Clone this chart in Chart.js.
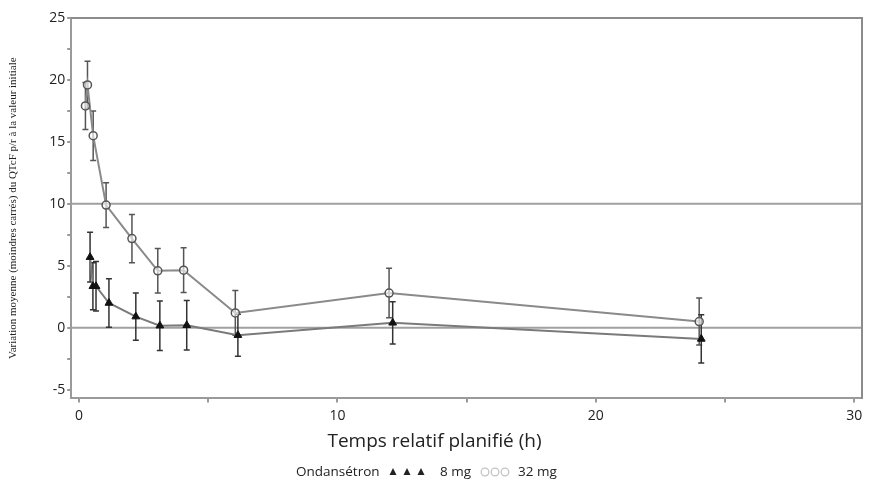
<!DOCTYPE html>
<html>
<head>
<meta charset="utf-8">
<script src="https://cdn.jsdelivr.net/npm/chart.js@4/dist/chart.umd.min.js"></script>
<style>
  html, body { margin: 0; padding: 0; background: #fff; }
  #wrap { width: 872px; height: 487px; position: relative; }
</style>
</head>
<body>
<div id="wrap"><canvas id="qtChart"></canvas></div>
<script>
// values (hours, ms)
const times32 = [0.25, 0.33, 0.55, 1.05, 2.05, 3.05, 4.05, 6.05, 12, 24];
const mean32 = [17.9, 19.6, 15.5, 9.9, 7.2, 4.6, 4.65, 1.2, 2.8, 0.5];
const err32 = [1.9, 1.9, 2.0, 1.8, 1.95, 1.8, 1.8, 1.8, 2.0, 1.9];

const times8 = [0.43, 0.54, 0.66, 1.16, 2.2, 3.13, 4.17, 6.15, 12.14, 24.08];
const mean8 = [5.7, 3.35, 3.35, 2.0, 0.9, 0.17, 0.2, -0.6, 0.4, -0.9];
const err8 = [2.0, 1.9, 2.0, 1.95, 1.9, 2.0, 2.0, 1.7, 1.7, 1.95];

const xTicks = [0, 5, 10, 15, 20, 25, 30];
const yTicks = [-5, -2.5, 0, 2.5, 5, 7.5, 10, 12.5, 15, 17.5, 20, 22.5, 25];
const refLines = [0, 10];

const FONT = "'Open Sans', Lato, sans-serif";

function toPoints(xs, ys, es) {
  return xs.map((x, i) => ({ x: x, y: ys[i], err: es[i] }));
}

// error bars, reference lines, frame and legend
const extras = {
  id: "extras",
  beforeDatasetsDraw(chart) {
    const ctx = chart.ctx;
    const a = chart.chartArea;
    const xs = chart.scales.x, ys = chart.scales.y;
    ctx.save();
    // horizontal reference lines
    ctx.strokeStyle = "#a0a0a0";
    ctx.lineWidth = 2;
    refLines.forEach((v) => {
      const y = ys.getPixelForValue(v);
      ctx.beginPath();
      ctx.moveTo(a.left, y);
      ctx.lineTo(a.right, y);
      ctx.stroke();
    });
    // top and right frame
    ctx.strokeStyle = "#8c8c8c";
    ctx.beginPath();
    ctx.moveTo(a.left, a.top);
    ctx.lineTo(a.right, a.top);
    ctx.lineTo(a.right, a.bottom);
    ctx.stroke();
    // error bars
    chart.data.datasets.forEach((ds) => {
      ctx.strokeStyle = ds.errColor;
      ctx.lineWidth = 1.5;
      ds.data.forEach((p) => {
        const x = xs.getPixelForValue(p.x);
        const y1 = ys.getPixelForValue(p.y - p.err);
        const y2 = ys.getPixelForValue(p.y + p.err);
        ctx.beginPath();
        ctx.moveTo(x, y1); ctx.lineTo(x, y2);
        ctx.moveTo(x - 3, y1); ctx.lineTo(x + 3, y1);
        ctx.moveTo(x - 3, y2); ctx.lineTo(x + 3, y2);
        ctx.stroke();
      });
    });
    ctx.restore();
  },
  afterDraw(chart) {
    const ctx = chart.ctx;
    ctx.save();
    ctx.font = "13.5px " + FONT;
    ctx.fillStyle = "#222";
    ctx.textBaseline = "middle";
    const y = 472;
    ctx.fillText("Ondansétron", 296, y);
    [393, 407, 421].forEach((cx) => {
      ctx.beginPath();
      ctx.moveTo(cx, y - 4); ctx.lineTo(cx + 3.5, y + 3); ctx.lineTo(cx - 3.5, y + 3);
      ctx.closePath();
      ctx.fill();
    });
    ctx.fillText("8 mg", 440, y);
    ctx.strokeStyle = "#c4c4c4";
    ctx.lineWidth = 1.3;
    [485, 495, 505].forEach((cx) => {
      ctx.beginPath();
      ctx.arc(cx, y, 3.8, 0, Math.PI * 2);
      ctx.stroke();
    });
    ctx.fillText("32 mg", 518, y);
    ctx.restore();
  }
};

const ctx = document.getElementById("qtChart").getContext("2d");
const qtChart = new Chart(ctx, {
  type: "scatter",
  data: {
    datasets: [
      {
        label: "32 mg",
        data: toPoints(times32, mean32, err32),
        showLine: true,
        borderColor: "#8a8a8a",
        borderWidth: 2,
        pointStyle: "circle",
        pointRadius: 4,
        pointBackgroundColor: "rgba(255,255,255,0.6)",
        pointBorderColor: "#555",
        pointBorderWidth: 1.5,
        errColor: "#555",
      },
      {
        label: "8 mg",
        data: toPoints(times8, mean8, err8),
        showLine: true,
        borderColor: "#7a7a7a",
        borderWidth: 2,
        pointStyle: "triangle",
        pointRadius: 4.5,
        pointBackgroundColor: "#111",
        pointBorderColor: "#111",
        pointBorderWidth: 1,
        errColor: "#333",
      },
    ],
  },
  options: {
    responsive: true,
    maintainAspectRatio: false,
    animation: false,
    layout: { padding: { left: 7, right: 10, top: 18, bottom: 6 } },
    plugins: {
      legend: { display: false },
      tooltip: { enabled: false },
      title: {
        display: true,
        position: "bottom",
        text: "Temps relatif planifié (h)",
        font: { family: FONT, size: 19, weight: "normal" },
        color: "#222",
        padding: { top: 1, bottom: 28 },
      },
    },
    scales: {
      x: {
        type: "linear",
        min: -0.3,
        max: 30.3,
        afterBuildTicks: (s) => { s.ticks = xTicks.map((v) => ({ value: v })); },
        ticks: {
          callback: (v) => (v % 10 === 0 ? v : ""),
          font: { family: FONT, size: 14 },
          color: "#222",
          padding: 5,
          maxRotation: 0,
        },
        grid: { drawOnChartArea: false, tickLength: 4, color: "#999", lineWidth: 2 },
        border: { color: "#9a9a9a", width: 2 },
      },
      y: {
        type: "linear",
        min: -5.7,
        max: 25,
        afterBuildTicks: (s) => { s.ticks = yTicks.map((v) => ({ value: v })); },
        ticks: {
          callback: (v) => (v % 5 === 0 ? v : ""),
          font: { family: FONT, size: 14 },
          color: "#222",
          padding: 2,
        },
        grid: { drawOnChartArea: false, tickLength: 4, color: "#999", lineWidth: 2 },
        border: { color: "#9a9a9a", width: 2 },
        title: {
          display: true,
          text: "Variation moyenne (moindres carrés) du QTcF p/r à la valeur initiale",
          font: { family: "'Liberation Serif', 'DejaVu Serif', serif", size: 11 },
          color: "#222",
          padding: { top: 0, bottom: 27 },
        },
      },
    },
  },
  plugins: [extras],
});
</script>
</body>
</html>
